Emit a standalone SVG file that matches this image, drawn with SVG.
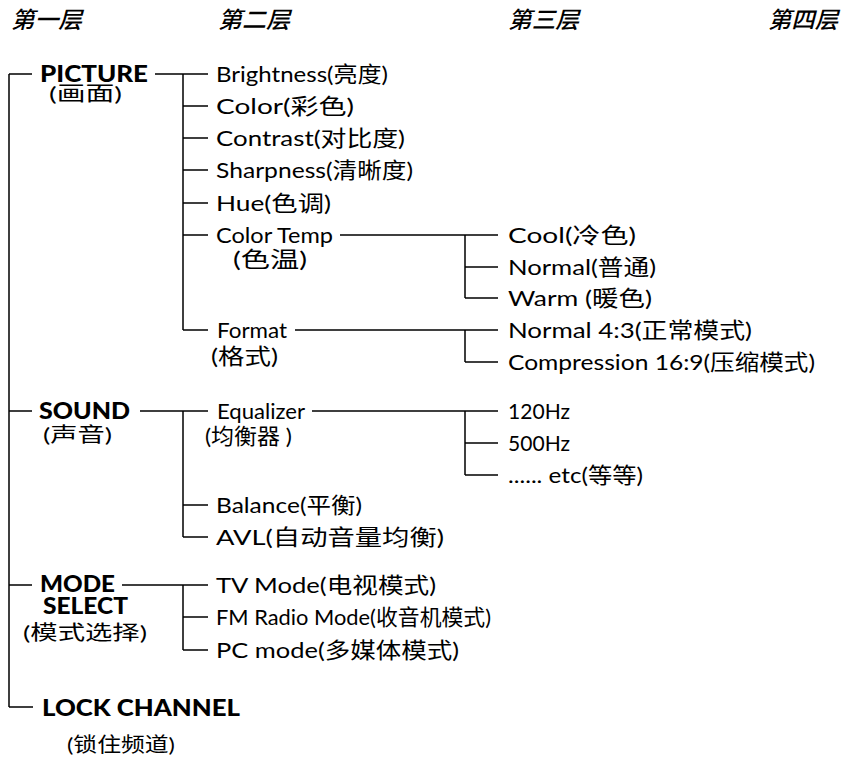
<svg xmlns="http://www.w3.org/2000/svg" width="842" height="763" viewBox="0 0 842 763">
<style>
.h{font-family:"Noto Sans CJK SC","Noto Sans",sans-serif;font-style:italic;font-size:23px;font-weight:500;fill:#000}
.t{font-family:Lato,"Noto Sans CJK SC",sans-serif;font-size:22px;fill:#000}
.b{font-family:Lato,"Noto Sans CJK SC",sans-serif;font-size:22px;font-weight:900;fill:#000}
.k{font-family:"Noto Sans CJK SC",sans-serif;font-size:22px;font-weight:400}
.s{font-size:20px;font-weight:400}
.s .k{font-size:20px}
.ln{stroke:#000;stroke-width:1.5;fill:none}
</style>
<rect width="842" height="763" fill="#fff"/>
<g id="headers">
<text class="h" x="11" y="28" textLength="71" lengthAdjust="spacingAndGlyphs">第一层</text>
<text class="h" x="218" y="28" textLength="72" lengthAdjust="spacingAndGlyphs">第二层</text>
<text class="h" x="508" y="28" textLength="71" lengthAdjust="spacingAndGlyphs">第三层</text>
<text class="h" x="768" y="28" textLength="70" lengthAdjust="spacingAndGlyphs">第四层</text>
</g>
<g id="connectors" class="ln">
<path d="M9,74V707M9,74H32M9,411H32M9,585H32M9,707H33"/>
<path d="M155,74H208M183,74V330M183,106H208M183,138H208M183,170H208M183,203H208M183,235H208M183,330H208"/>
<path d="M340,235H498M465,235V298M465,267H498M465,298H498"/>
<path d="M295,330H498M465,330V362M465,362H498"/>
<path d="M140,411H208M183,411V537M183,505H208M183,537H208"/>
<path d="M312,411H498M465,411V475M465,443H498M465,475H498"/>
<path d="M122,585H208M183,585V650M183,617H208M183,650H208"/>
</g>
<g id="picture"><text class="b"><tspan x="40" y="82" textLength="108" lengthAdjust="spacingAndGlyphs">PICTURE</tspan><tspan class="s" x="49" y="101" textLength="73" lengthAdjust="spacingAndGlyphs">(<tspan class="k">画面</tspan>)</tspan></text></g>
<g id="brightness"><text class="t" x="216" y="82" textLength="172" lengthAdjust="spacingAndGlyphs">Brightness(<tspan class="k">亮度</tspan>)</text></g>
<g id="color"><text class="t" x="216" y="114" textLength="138" lengthAdjust="spacingAndGlyphs">Color(<tspan class="k">彩色</tspan>)</text></g>
<g id="contrast"><text class="t" x="216" y="146" textLength="189" lengthAdjust="spacingAndGlyphs">Contrast(<tspan class="k">对比度</tspan>)</text></g>
<g id="sharpness"><text class="t" x="216" y="178" textLength="197" lengthAdjust="spacingAndGlyphs">Sharpness(<tspan class="k">清晰度</tspan>)</text></g>
<g id="hue"><text class="t" x="216" y="211" textLength="115" lengthAdjust="spacingAndGlyphs">Hue(<tspan class="k">色调</tspan>)</text></g>
<g id="colortemp"><text class="t"><tspan x="216" y="243" textLength="117" lengthAdjust="spacingAndGlyphs">Color Temp</tspan><tspan x="233" y="267" textLength="74" lengthAdjust="spacingAndGlyphs">(<tspan class="k">色温</tspan>)</tspan></text></g>
<g id="format"><text class="t"><tspan x="217" y="338" textLength="70" lengthAdjust="spacingAndGlyphs">Format</tspan><tspan x="211" y="364" textLength="67" lengthAdjust="spacingAndGlyphs">(<tspan class="k">格式</tspan>)</tspan></text></g>
<g id="cool"><text class="t" x="508" y="243" textLength="128" lengthAdjust="spacingAndGlyphs">Cool(<tspan class="k">冷色</tspan>)</text></g>
<g id="normal"><text class="t" x="508" y="275" textLength="148" lengthAdjust="spacingAndGlyphs">Normal(<tspan class="k">普通</tspan>)</text></g>
<g id="warm"><text class="t" x="508" y="306" textLength="144" lengthAdjust="spacingAndGlyphs">Warm (<tspan class="k">暖色</tspan>)</text></g>
<g id="normal43"><text class="t" x="508" y="338" textLength="244" lengthAdjust="spacingAndGlyphs">Normal 4:3(<tspan class="k">正常模式</tspan>)</text></g>
<g id="compression"><text class="t" x="508" y="370" textLength="307" lengthAdjust="spacingAndGlyphs">Compression 16:9(<tspan class="k">压缩模式</tspan>)</text></g>
<g id="sound"><text class="b"><tspan x="39" y="419" textLength="91" lengthAdjust="spacingAndGlyphs">SOUND</tspan><tspan class="s" x="43" y="442" textLength="69" lengthAdjust="spacingAndGlyphs">(<tspan class="k">声音</tspan>)</tspan></text></g>
<g id="equalizer"><text class="t"><tspan x="217" y="419" textLength="88" lengthAdjust="spacingAndGlyphs">Equalizer</tspan><tspan x="205" y="444" textLength="87" lengthAdjust="spacingAndGlyphs">(<tspan class="k">均衡器</tspan> )</tspan></text></g>
<g id="hz120"><text class="t" x="508" y="419" textLength="62" lengthAdjust="spacingAndGlyphs">120Hz</text></g>
<g id="hz500"><text class="t" x="508" y="451" textLength="62" lengthAdjust="spacingAndGlyphs">500Hz</text></g>
<g id="etc"><text class="t" x="508" y="483" textLength="135" lengthAdjust="spacingAndGlyphs">...... etc(<tspan class="k">等等</tspan>)</text></g>
<g id="balance"><text class="t" x="216" y="513" textLength="146" lengthAdjust="spacingAndGlyphs">Balance(<tspan class="k">平衡</tspan>)</text></g>
<g id="avl"><text class="t" x="216" y="545" textLength="228" lengthAdjust="spacingAndGlyphs">AVL(<tspan class="k">自动音量均衡</tspan>)</text></g>
<g id="mode"><text class="b"><tspan x="40" y="592" textLength="75" lengthAdjust="spacingAndGlyphs">MODE</tspan><tspan x="43" y="614" textLength="85" lengthAdjust="spacingAndGlyphs">SELECT</tspan><tspan class="s" x="23" y="640" textLength="124" lengthAdjust="spacingAndGlyphs">(<tspan class="k">模式选择</tspan>)</tspan></text></g>
<g id="tvmode"><text class="t" x="216" y="593" textLength="220" lengthAdjust="spacingAndGlyphs">TV Mode(<tspan class="k">电视模式</tspan>)</text></g>
<g id="fmmode"><text class="t" x="216" y="625" textLength="275" lengthAdjust="spacingAndGlyphs">FM Radio Mode(<tspan class="k">收音机模式</tspan>)</text></g>
<g id="pcmode"><text class="t" x="216" y="658" textLength="243" lengthAdjust="spacingAndGlyphs">PC mode(<tspan class="k">多媒体模式</tspan>)</text></g>
<g id="lock"><text class="b"><tspan x="42" y="716" textLength="198" lengthAdjust="spacingAndGlyphs">LOCK CHANNEL</tspan><tspan class="s" x="67" y="752" textLength="108" lengthAdjust="spacingAndGlyphs">(<tspan class="k">锁住频道</tspan>)</tspan></text></g>
</svg>
